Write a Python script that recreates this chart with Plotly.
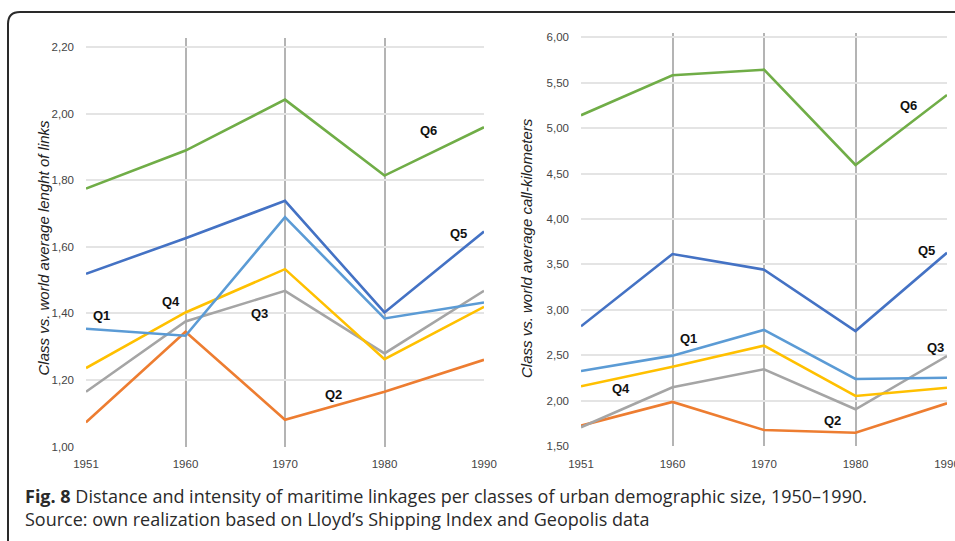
import plotly.graph_objects as go

W, H = 955, 541

years = ["1951", "1960", "1970", "1980", "1990"]
colors = {"Q6": "#70ad47", "Q5": "#4472c4", "Q1": "#5b9bd5",
          "Q4": "#ffc000", "Q3": "#a5a5a5", "Q2": "#ed7d31"}

# Left chart: class vs. world average length of links
length_q6 = [1.775, 1.889, 2.042, 1.814, 1.959]
length_q5 = [1.519, 1.626, 1.738, 1.403, 1.646]
length_q1 = [1.354, 1.333, 1.689, 1.385, 1.433]
length_q4 = [1.236, 1.403, 1.533, 1.263, 1.420]
length_q3 = [1.165, 1.376, 1.468, 1.280, 1.468]
length_q2 = [1.073, 1.345, 1.081, 1.165, 1.261]

# Right chart: class vs. world average call-kilometers
callkm_q6 = [5.142, 5.582, 5.644, 4.595, 5.366]
callkm_q5 = [2.818, 3.614, 3.442, 2.766, 3.629]
callkm_q1 = [2.326, 2.495, 2.778, 2.238, 2.252]
callkm_q4 = [2.157, 2.373, 2.605, 2.051, 2.142]
callkm_q3 = [1.706, 2.146, 2.345, 1.904, 2.491]
callkm_q2 = [1.724, 1.985, 1.676, 1.646, 1.970]

left_ticks = [1.0, 1.2, 1.4, 1.6, 1.8, 2.0, 2.2]
right_ticks = [1.5, 2.0, 2.5, 3.0, 3.5, 4.0, 4.5, 5.0, 5.5, 6.0]

# Series label positions (category index, value)
left_labels = {"Q6": (3.44, 1.949), "Q5": (3.74, 1.639), "Q1": (0.16, 1.393),
               "Q4": (0.85, 1.435), "Q3": (1.74, 1.399), "Q2": (2.49, 1.158)}
right_labels = {"Q6": (3.58, 5.245), "Q5": (3.78, 3.648), "Q1": (1.17, 2.689),
                "Q4": (0.44, 2.128), "Q3": (3.87, 2.590), "Q2": (2.75, 1.786)}

left_data = {"Q6": length_q6, "Q5": length_q5, "Q1": length_q1,
             "Q4": length_q4, "Q3": length_q3, "Q2": length_q2}
right_data = {"Q6": callkm_q6, "Q5": callkm_q5, "Q1": callkm_q1,
              "Q4": callkm_q4, "Q3": callkm_q3, "Q2": callkm_q2}

fig = go.Figure()
for q in ["Q2", "Q3", "Q4", "Q1", "Q5", "Q6"]:
    fig.add_trace(go.Scatter(x=years, y=left_data[q], mode="lines", name=q,
                             line=dict(color=colors[q], width=2.6),
                             xaxis="x", yaxis="y", showlegend=False))
    fig.add_trace(go.Scatter(x=years, y=right_data[q], mode="lines", name=q,
                             line=dict(color=colors[q], width=2.6),
                             xaxis="x2", yaxis="y2", showlegend=False))

def px_x(p):
    return p / W

def px_y(p):
    return 1 - p / H

tickfont = dict(family="Liberation Sans, Arial", size=11.5, color="#444444")

xcommon = dict(type="category", range=[0, 4], showgrid=True, gridcolor="#b4b4b4",
               gridwidth=2, zeroline=False, showline=False, ticks="",
               tickfont=tickfont, ticklabelstandoff=9, automargin=False,
               fixedrange=True)
ycommon = dict(showgrid=True, gridcolor="#e4e4e4", gridwidth=2, zeroline=False,
               showline=False, ticks="", tickfont=tickfont, ticklabelstandoff=11,
               tickformat=".2f", automargin=False, fixedrange=True)

fig.update_layout(
    width=W, height=H,
    margin=dict(l=0, r=0, t=0, b=0, pad=0),
    paper_bgcolor="white", plot_bgcolor="white",
    separators=", ",
    xaxis=dict(domain=[px_x(86), px_x(484)], anchor="y", **xcommon),
    yaxis=dict(domain=[px_y(446.7), px_y(38)], anchor="x", range=[1.0, 2.227],
               tickvals=left_ticks, **ycommon),
    xaxis2=dict(domain=[px_x(581), px_x(947)], anchor="y2", **xcommon),
    yaxis2=dict(domain=[px_y(446), px_y(33)], anchor="x2", range=[1.5, 6.048],
                tickvals=right_ticks, **ycommon),
)

annotations = []
labfont = dict(family="Liberation Sans, Arial", size=13, color="#111111")
for q, (xi, yv) in left_labels.items():
    annotations.append(dict(x=xi, y=yv, xref="x", yref="y", text="<b>%s</b>" % q,
                            showarrow=False, font=labfont))
for q, (xi, yv) in right_labels.items():
    annotations.append(dict(x=xi, y=yv, xref="x2", yref="y2", text="<b>%s</b>" % q,
                            showarrow=False, font=labfont))

titlefont = dict(family="Liberation Sans, Arial", size=15, color="#222222")
annotations.append(dict(x=px_x(32), y=px_y(248), xref="paper", yref="paper",
                        text="<i>Class vs. world average lenght of links</i>",
                        textangle=-90, showarrow=False, font=titlefont))
annotations.append(dict(x=px_x(526), y=px_y(248), xref="paper", yref="paper",
                        text="<i>Class vs. world average call-kilometers</i>",
                        textangle=-90, showarrow=False, font=titlefont))

capfont = dict(family="Open Sans, Noto Sans, Liberation Sans", size=18, color="#2a2a2a")
annotations.append(dict(x=px_x(23), y=px_y(507), xref="paper", yref="paper",
                        xanchor="left", yanchor="middle", align="left", showarrow=False,
                        text="<b>Fig. 8</b> Distance and intensity of maritime linkages per classes of urban demographic size, 1950–1990."
                             "<br>Source: own realization based on Lloyd’s Shipping Index and Geopolis data",
                        font=capfont))
fig.update_layout(annotations=annotations)

# Rounded frame around figure (extends beyond right and bottom edges)
x0, y0, r = px_x(8), px_y(12), 12
rx, ry = r / W, r / H
path = (f"M {x0},{px_y(560)} L {x0},{y0 - ry} "
        f"Q {x0},{y0} {x0 + rx},{y0} L {px_x(970)},{y0}")
fig.add_shape(type="path", path=path, xref="paper", yref="paper",
              line=dict(color="#2a2a2a", width=2))

fig.write_html(
    "out.html",
    config={"displayModeBar": False, "staticPlot": True},
    post_script="document.body.style.margin='0';document.body.style.overflow='hidden';",
)
